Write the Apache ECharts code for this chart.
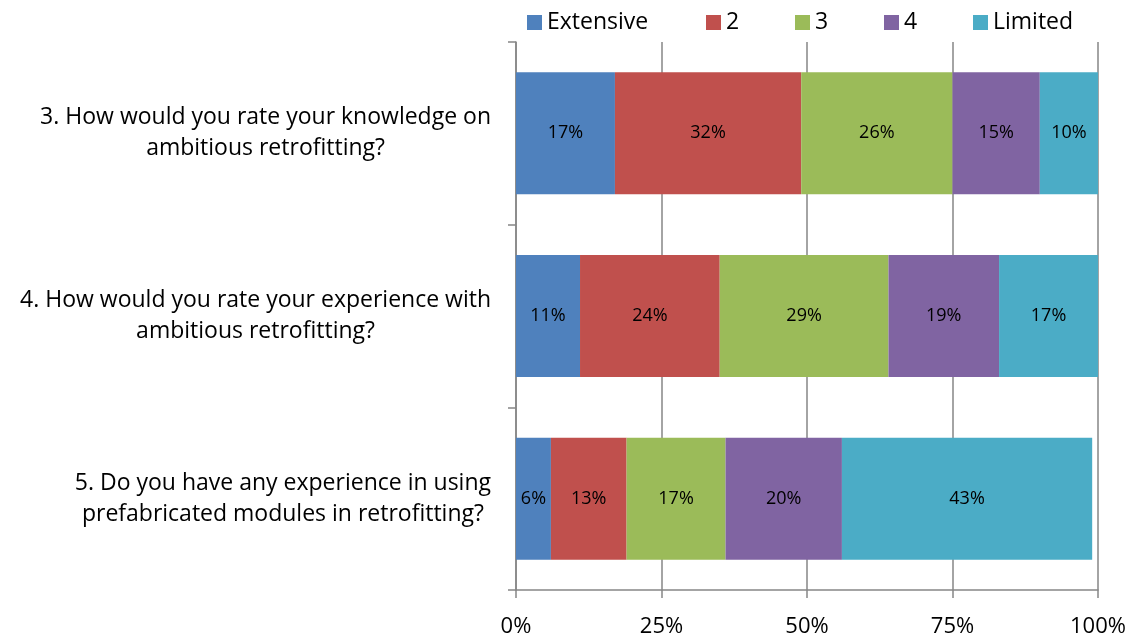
<!DOCTYPE html>
<html>
<head>
<meta charset="utf-8">
<script src="https://cdn.jsdelivr.net/npm/echarts@6/dist/echarts.min.js"></script>
<style>
  html, body { margin: 0; padding: 0; background: #fff; }
  #chart { width: 1131px; height: 638px; }
</style>
</head>
<body>
<div id="chart"></div>
<script>
const questions = [
  '3. How would you rate your knowledge on\nambitious retrofitting?',
  '4. How would you rate your experience with\nambitious retrofitting?',
  '5. Do you have any experience in using\nprefabricated modules in retrofitting?'
]
const seriesNames = ['Extensive', '2', '3', '4', 'Limited']
const extensive = [17, 11, 6]
const two = [32, 24, 13]
const three = [26, 29, 17]
const four = [15, 19, 20]
const limited = [10, 17, 43]
const xTicks = [0, 25, 50, 75, 100]

const colors = ['#4F81BD', '#C0504D', '#9BBB59', '#8064A2', '#4BACC6']
const values = [extensive, two, three, four, limited]
const font = '"Open Sans", "DejaVu Sans", sans-serif'
// legend entry left positions (Excel spaces them on a fixed grid)
const legendLeft = [527, 706, 795, 884, 973]
const gray = '#868686'

const chart = echarts.init(document.getElementById('chart'))

chart.setOption({
  animation: false,
  color: colors,
  textStyle: { fontFamily: font },
  legend: seriesNames.map((n, i) => ({
    top: 11,
    left: legendLeft[i],
    padding: 0,
    itemWidth: 15,
    itemHeight: 15,
    icon: 'rect',
    selectedMode: false,
    textStyle: { fontSize: 23, color: '#000', fontFamily: font },
    data: [n]
  })),
  grid: {
    left: 516,
    right: 33,
    top: 42,
    bottom: 45,
    containLabel: false
  },
  xAxis: {
    type: 'value',
    min: 0,
    max: 100,
    interval: 25,
    axisLine: { show: true, lineStyle: { color: gray, width: 1.5 } },
    axisTick: { show: true, length: 8, lineStyle: { color: gray, width: 1.5 } },
    splitLine: { show: true, lineStyle: { color: gray, width: 1.5 } },
    axisLabel: {
      margin: 26,
      fontSize: 22,
      color: '#000',
      fontFamily: font,
      formatter: v => xTicks.includes(v) ? v + '%' : ''
    }
  },
  yAxis: {
    type: 'category',
    inverse: true,
    data: questions,
    axisLine: { show: true, lineStyle: { color: gray, width: 1.5 } },
    axisTick: { show: true, length: 8, lineStyle: { color: gray, width: 1.5 } },
    axisLabel: {
      margin: 25,
      fontSize: 23,
      color: '#000',
      fontFamily: font,
      lineHeight: 31,
      formatter: v => v.split('\n').map(l => '{c|' + l + '}').join('\n'),
      rich: {
        c: { align: 'center', fontSize: 23, lineHeight: 31, fontFamily: font, color: '#000' }
      }
    }
  },
  series: seriesNames.map((name, i) => ({
    name,
    type: 'bar',
    stack: 'total',
    barWidth: 122,
    data: values[i],
    itemStyle: { color: colors[i] },
    label: {
      show: true,
      position: 'inside',
      color: '#000',
      fontSize: 18,
      fontFamily: font,
      formatter: '{c}%'
    }
  }))
})
</script>
</body>
</html>
